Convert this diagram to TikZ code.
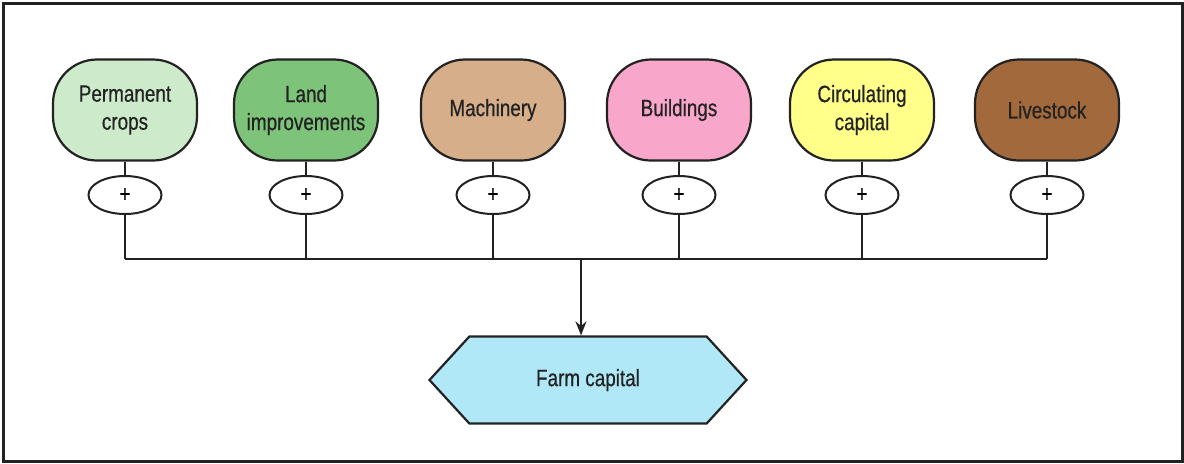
\documentclass[tikz,border=0pt]{standalone}
\usepackage{fontspec}
\setmainfont[FakeStretch=0.8, FakeBold=0.5]{Liberation Sans}
\usetikzlibrary{arrows.meta,shapes.geometric,shapes.symbols}
\definecolor{cropsfill}{HTML}{CDEBCB}
\definecolor{landfill}{HTML}{7DC47A}
\definecolor{machfill}{HTML}{D6AE8A}
\definecolor{buildfill}{HTML}{F9A6CB}
\definecolor{circfill}{HTML}{FFFF8A}
\definecolor{livefill}{HTML}{A26A3C}
\definecolor{farmfill}{HTML}{B0E8F8}
\definecolor{inkgrey}{HTML}{222222}
\tikzset{
  source/.style={draw=inkgrey, line width=1.1pt, rectangle, rounded corners=22pt,
    minimum width=72pt, minimum height=50.5pt, align=center,
    font=\fontsize{11.8}{14}\selectfont, text=inkgrey},
  plus/.style={draw=inkgrey, line width=1pt, ellipse, minimum width=36.5pt,
    minimum height=19pt, inner sep=0pt, font=\fontsize{12}{12}\selectfont},
  total/.style={draw=inkgrey, line width=1.1pt, signal, signal to=west and east,
    signal pointer angle=95, minimum width=158.5pt, minimum height=43.5pt,
    font=\fontsize{11.8}{14}\selectfont, text=inkgrey},
  link/.style={draw=inkgrey, line width=1.1pt},
}
\begin{document}
\begin{tikzpicture}[x=0.5pt, y=-0.5pt]
\useasboundingbox (0,0) rectangle (1184,463);
\draw[line width=1.5pt, draw=inkgrey] (3,3) rectangle (1182,461);

\node[source, fill=cropsfill] (crops) at (125,110) {Permanent\\crops};
\node[source, fill=landfill] (land) at (306,110) {Land\\improvements};
\node[source, fill=machfill] (mach) at (493,110) {Machinery};
\node[source, fill=buildfill] (build) at (679,110) {Buildings};
\node[source, fill=circfill] (circ) at (862,110) {Circulating\\capital};
\node[source, fill=livefill] (live) at (1047,110) {Livestock};

\foreach \s/\p in {crops/pc, land/pl, mach/pm, build/pb, circ/pci, live/pli} {
  \node[plus] (\p) at (\s |- 0,195) {+};
  \draw[link] (\s.south) -- (\p.north);
}

\coordinate (bus) at (581,259);
\node[total, fill=farmfill] (farm) at (588,380) {Farm capital};

\foreach \p in {pc, pl, pm, pb, pci, pli}
  \draw[link] (\p.south) -- (\p.south |- bus);
\draw[link] (pc.south |- bus) -- (pli.south |- bus);
\draw[link, -{Stealth[length=7pt, width=5.5pt]}] (bus) -- (bus |- farm.north);
\end{tikzpicture}
\end{document}
